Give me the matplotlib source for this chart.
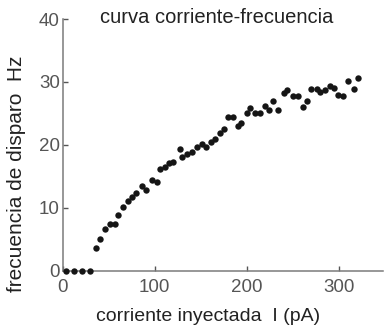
import matplotlib
matplotlib.use("Agg")

import matplotlib.pyplot as plt

# current-frequency curve, values
corriente = [4, 12, 21, 30,
             36, 41, 46, 51, 57, 60, 66, 71, 75, 80, 86, 91, 97, 102,
             106, 111, 116, 120, 127, 130, 135, 140, 146, 151, 156, 161,
             165, 171, 175, 180, 185, 190, 194, 200, 204, 209, 214, 220,
             224, 229, 234, 240, 244, 250, 256, 261, 265, 270, 276, 280,
             285, 290, 295, 299, 305, 310, 316, 321]
frecuencia = [0, 0, 0, 0,
              3.6, 5.0, 6.6, 7.4, 7.5, 8.8, 10.2, 11.0, 11.7, 12.4, 13.4, 12.8, 14.4, 14.1,
              16.1, 16.5, 17.1, 17.3, 19.3, 18.0, 18.5, 18.8, 19.7, 20.1, 19.7, 20.5,
              20.9, 21.9, 22.5, 24.4, 24.4, 23.0, 23.4, 25.0, 25.8, 25.1, 25.1, 26.1,
              25.5, 26.9, 25.6, 28.3, 28.7, 27.7, 27.8, 26.0, 26.9, 28.9, 28.9, 28.4,
              28.7, 29.3, 29.1, 27.9, 27.7, 30.2, 28.8, 30.7]

x_ticks = [0, 100, 200, 300]
y_ticks = [0, 10, 20, 30, 40]

plt.rcParams["font.family"] = ["Liberation Sans", "DejaVu Sans"]

fig = plt.figure(figsize=(3.84, 3.29), dpi=100)
ax = fig.add_axes([0.1633, 0.1772, 0.834, 0.765])

# zorder above the spines so the zero-rate points sit on top of the axis
ax.plot(corriente, frecuencia, "o", color="#151515", markersize=4.6,
        markeredgewidth=0, clip_on=False, zorder=3)

ax.set_xlim(0, 348)
ax.set_ylim(0, 40)
ax.set_xticks(x_ticks)
ax.set_yticks(y_ticks)

for side in ["top", "right"]:
    ax.spines[side].set_visible(False)
for side in ["left", "bottom"]:
    ax.spines[side].set_color("#7a7a7a")
    ax.spines[side].set_linewidth(1.1)

ax.tick_params(axis="both", direction="in", length=3.5, width=1,
               color="#555555", labelcolor="#555555", labelsize=13.5)
ax.tick_params(axis="x", pad=6)
ax.tick_params(axis="y", pad=2)

fig.text(0.563, 0.930, "curva corriente-frecuencia", ha="center", va="baseline",
         fontsize=14.5, color="#222222")
fig.text(0.542, 0.024, "corriente inyectada  I (pA)", ha="center", va="baseline",
         fontsize=14, color="#222222")
fig.text(0.042, 0.473, "frecuencia de disparo  Hz", ha="center", va="center",
         rotation=90, fontsize=15, color="#222222")

fig.savefig("out.png", dpi=100)
